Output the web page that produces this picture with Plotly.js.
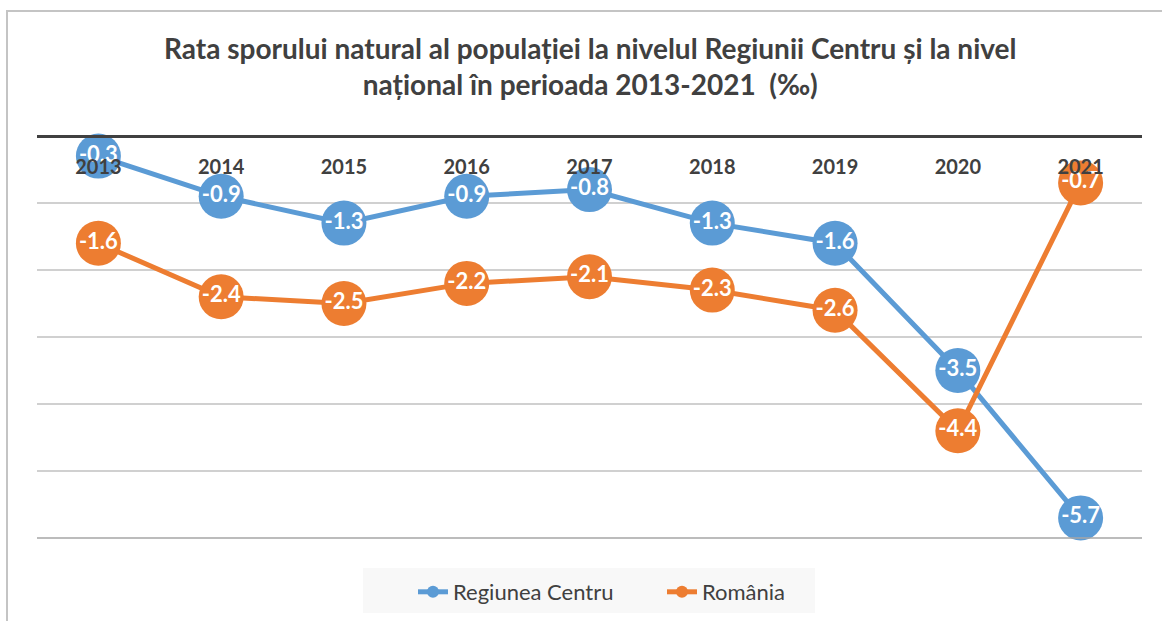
<!DOCTYPE html>
<html>
<head>
<meta charset="utf-8">
<script src="https://cdn.plot.ly/plotly-3.0.1.min.js"></script>
<style>
  html, body { margin: 0; padding: 0; background: #fff; }
  #wrap { position: relative; width: 1162px; height: 621px; overflow: hidden; }
  #chart { width: 1162px; height: 621px; }
  #frame { position: absolute; left: 6px; top: 10px; width: 1200px; height: 700px;
           border-left: 2px solid #c4c4c4; border-top: 2px solid #c4c4c4; pointer-events: none; }
</style>
</head>
<body>
<div id="wrap">
  <div id="chart"></div>
  <div id="frame"></div>
</div>
<script>
const years = ['2013', '2014', '2015', '2016', '2017', '2018', '2019', '2020', '2021'];
const regiuneaCentru = [-0.3, -0.9, -1.3, -0.9, -0.8, -1.3, -1.6, -3.5, -5.7];
const romania = [-1.6, -2.4, -2.5, -2.2, -2.1, -2.3, -2.6, -4.4, -0.7];
const seriesNames = ['Regiunea Centru', 'România'];
const titleText = 'Rata sporului natural al populației la nivelul Regiunii Centru și la nivel<br>național în perioada 2013-2021  (‰)';

const FONT = 'Lato, "Open Sans", sans-serif';
const TXT = '#404040';

function makeTrace(name, values, color) {
  return {
    type: 'scatter',
    mode: 'lines+markers+text',
    name: name,
    x: years,
    y: values,
    text: values.map(v => v.toFixed(1)),
    textposition: 'middle center',
    textfont: { family: FONT, size: 22, color: '#ffffff', weight: 'bold' },
    line: { color: color, width: 5 },
    marker: { color: color, size: 45, line: { width: 0 } },
    cliponaxis: false
  };
}

const data = [
  makeTrace(seriesNames[0], regiuneaCentru, '#5b9bd5'),
  makeTrace(seriesNames[1], romania, '#ed7d31')
];

const layout = {
  width: 1162,
  height: 621,
  margin: { l: 37, r: 20, t: 136, b: 83, autoexpand: false },
  paper_bgcolor: '#ffffff',
  plot_bgcolor: '#ffffff',
  font: { family: FONT, color: TXT },
  title: {
    text: titleText,
    x: 0.508,
    xanchor: 'center',
    y: 0.905,
    yanchor: 'top',
    font: { family: FONT, size: 28, color: TXT, weight: 'bold' }
  },
  xaxis: {
    type: 'category',
    range: [-0.5, 8.5],
    anchor: 'free',
    position: 1,
    side: 'bottom',
    showline: true,
    linecolor: '#404040',
    linewidth: 3,
    ticks: '',
    ticklabelstandoff: 12,
    showgrid: false,
    tickfont: { family: FONT, size: 20, color: TXT, weight: 'bold' },
    layer: 'above traces'
  },
  yaxis: {
    range: [-6, 0],
    dtick: 1,
    showticklabels: false,
    gridcolor: '#d0d0d0',
    gridwidth: 1.5,
    zeroline: false,
    fixedrange: true
  },
  showlegend: true,
  legend: {
    orientation: 'h',
    xref: 'container',
    yref: 'container',
    x: 0.3554,
    xanchor: 'left',
    y: 0.0467,
    yanchor: 'middle',
    bgcolor: 'rgba(0,0,0,0)',
    font: { family: FONT, size: 22, color: TXT },
    entrywidth: 204,
    itemsizing: 'constant'
  },
  shapes: [
    { type: 'rect', xref: 'paper', yref: 'paper', x0: 0.295, x1: 0.704, y0: -0.0746, y1: -0.1866,
      fillcolor: '#f8f8f8', line: { width: 0 }, layer: 'below' },
    { type: 'line', xref: 'paper', yref: 'paper', x0: 0, x1: 1, y0: 0, y1: 0,
      line: { color: '#a6a6a6', width: 1.5 } }
  ]
};

Plotly.newPlot('chart', data, layout, { displayModeBar: false, staticPlot: true });
</script>
</body>
</html>
